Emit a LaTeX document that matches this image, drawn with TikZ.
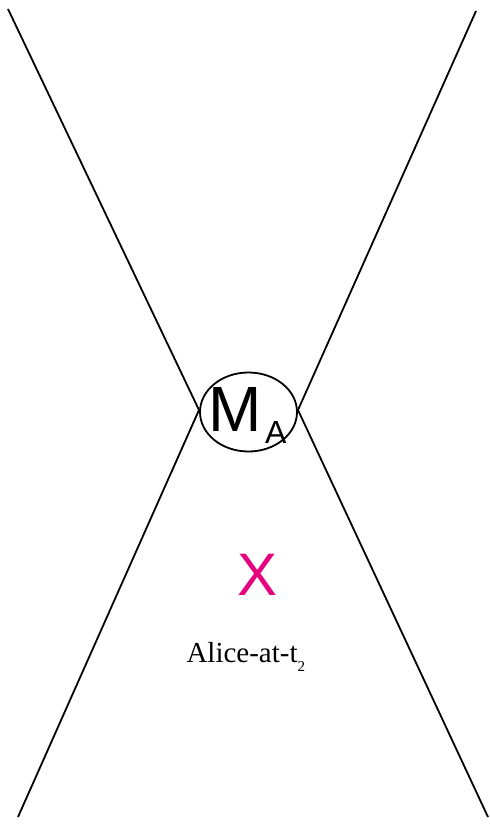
\documentclass[tikz,border=0pt]{standalone}
\usepackage{fontspec}
\setmainfont{Liberation Serif}
\newfontfamily\helv{Liberation Sans}
\usetikzlibrary{shapes.geometric}
\definecolor{mag}{RGB}{230,0,126}
\tikzset{
  worldline/.style={line width=1.8pt, black, line cap=butt},
  meet/.style={ellipse, draw, line width=1.8pt, fill=white, minimum width=97pt, minimum height=79pt, inner sep=0pt},
  lbl/.style={inner sep=0pt, outer sep=0pt}
}
\begin{document}
\begin{tikzpicture}[x=1pt,y=-1pt]
\useasboundingbox (0,0) rectangle (490,825);
\coordinate (tl) at (8,9);
\coordinate (tr) at (476,11);
\coordinate (bl) at (18,817);
\coordinate (br) at (488,817);
\coordinate (lx) at (199,410);
\coordinate (rx) at (298,410);
\draw[worldline] (tl) -- (lx);
\draw[worldline] (bl) -- (lx);
\draw[worldline] (tr) -- (rx);
\draw[worldline] (br) -- (rx);
\node[meet] (m) at (248.5,412) {};
\node[lbl, anchor=base west] (mlab) at (208.5,431) {\helv\fontsize{64}{64}\selectfont M};
\node[lbl, anchor=base west] (alab) at (265,443) {\helv\fontsize{32}{32}\selectfont A};
\node[lbl, anchor=base, text=mag] (x) at (258,595) {\helv\fontsize{60}{60}\selectfont X};
\node[lbl, anchor=base west] (alice) at (186.5,662) {\fontsize{29}{29}\selectfont Alice-at-t\raisebox{-9pt}{\fontsize{15}{15}\selectfont 2}};
\end{tikzpicture}
\end{document}
